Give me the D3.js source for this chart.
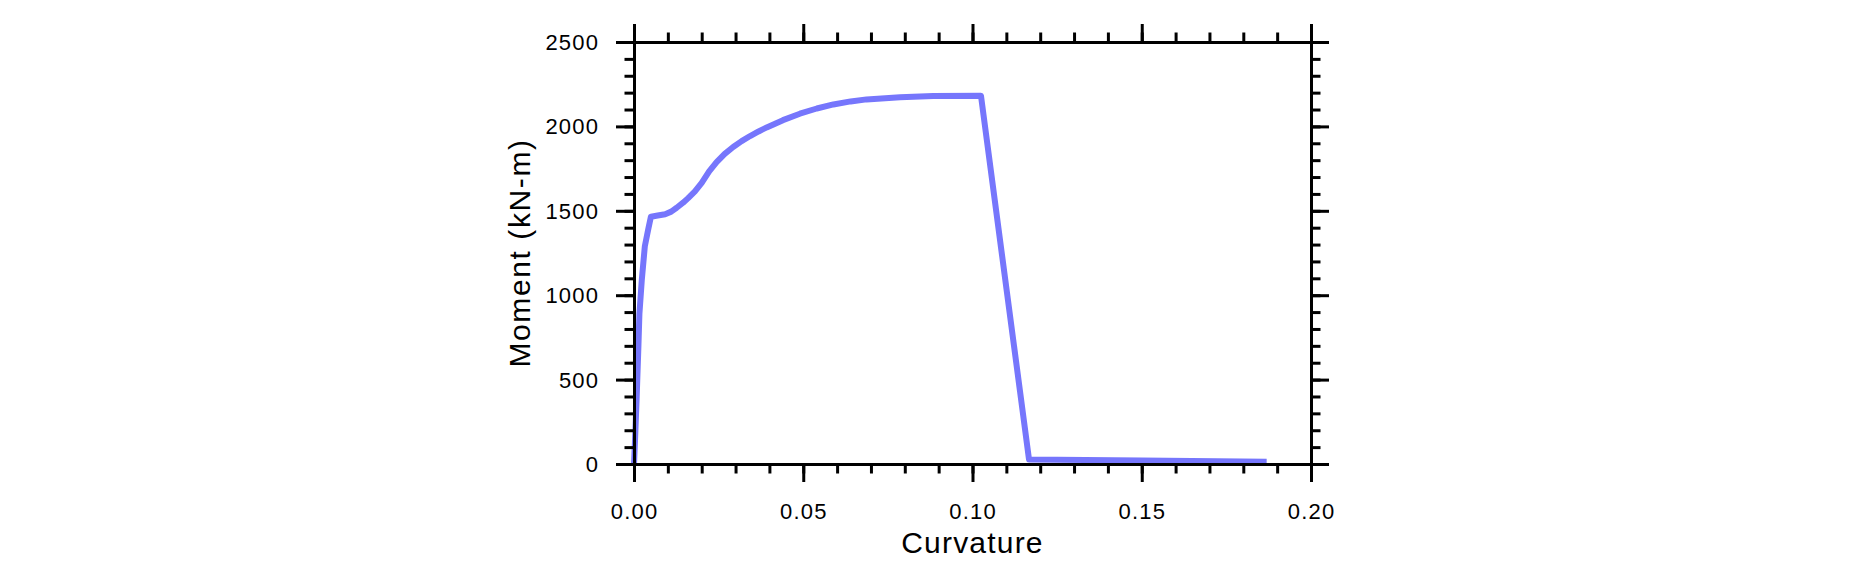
<!DOCTYPE html>
<html>
<head>
<meta charset="utf-8">
<script src="https://cdn.jsdelivr.net/npm/d3@7"></script>
<style>
  html, body { margin: 0; padding: 0; background: #fff; }
  svg { display: block; }
  text { font-family: "Liberation Sans", Arial, Helvetica, sans-serif; fill: #000; }
</style>
</head>
<body>
<script>
// ---- data ----
const curvature = [0, 0.0003, 0.0008, 0.0013, 0.0016, 0.0023, 0.0032, 0.0042, 0.0050, 0.0070, 0.0092, 0.0110, 0.0126, 0.0145, 0.0160, 0.0180, 0.0200, 0.0222, 0.0244, 0.0268, 0.0293, 0.0318, 0.0343, 0.0368, 0.0392, 0.0440, 0.0490, 0.0540, 0.0589, 0.0640, 0.0687, 0.0786, 0.0884, 0.1025, 0.1167, 0.1500, 0.1869];
const moment    = [0, 140, 400, 695, 890, 1090, 1290, 1390, 1465, 1472, 1480, 1495, 1518, 1548, 1575, 1615, 1665, 1733, 1788, 1837, 1878, 1913, 1943, 1970, 1994, 2037, 2075, 2106, 2130, 2148, 2160, 2172, 2180, 2182, 26, 20, 13];
const xTicks = [0.00, 0.05, 0.10, 0.15, 0.20];
const yTicks = [0, 500, 1000, 1500, 2000, 2500];
const xLabel = "Curvature";
const yLabel = "Moment (kN-m)";

const W = 1876, H = 585;
const L = 634, R = 1311, T = 42, B = 464;

const svg = d3.select("body").append("svg").attr("width", W).attr("height", H);

const x = d3.scaleLinear().domain([0, 0.2]).range([L, R]);
const y = d3.scaleLinear().domain([0, 2500]).range([B, T]);

const data = curvature.map((c, i) => [c, moment[i]]);

// curve
svg.append("path")
  .datum(data)
  .attr("fill", "none")
  .attr("stroke", "rgb(118,118,252)")
  .attr("stroke-width", 6)
  .attr("stroke-linejoin", "round")
  .attr("d", d3.line().x(d => x(d[0])).y(d => y(d[1])));

// axes with outward ticks
const xMinor = d3.range(0, 0.2001, 0.01);
const yMinor = d3.range(0, 2501, 100);
const MAJ = 18, MIN = 9.5;

function styleAxis(g) {
  g.selectAll("path.domain").attr("stroke", "#000").attr("stroke-width", 3);
  g.selectAll(".tick line").attr("stroke", "#000").attr("stroke-width", 3);
  g.selectAll(".tick text").remove();
}

// minor
svg.append("g").attr("transform", `translate(0,${B})`)
  .call(d3.axisBottom(x).tickValues(xMinor).tickSize(MIN).tickSizeOuter(0)).call(styleAxis);
svg.append("g").attr("transform", `translate(0,${T})`)
  .call(d3.axisTop(x).tickValues(xMinor).tickSize(MIN).tickSizeOuter(0)).call(styleAxis);
svg.append("g").attr("transform", `translate(${L},0)`)
  .call(d3.axisLeft(y).tickValues(yMinor).tickSize(MIN).tickSizeOuter(0)).call(styleAxis);
svg.append("g").attr("transform", `translate(${R},0)`)
  .call(d3.axisRight(y).tickValues(yMinor).tickSize(MIN).tickSizeOuter(0)).call(styleAxis);
// major
svg.append("g").attr("transform", `translate(0,${B})`)
  .call(d3.axisBottom(x).tickValues(xTicks).tickSize(MAJ).tickSizeOuter(0)).call(styleAxis);
svg.append("g").attr("transform", `translate(0,${T})`)
  .call(d3.axisTop(x).tickValues(xTicks).tickSize(MAJ).tickSizeOuter(0)).call(styleAxis);
svg.append("g").attr("transform", `translate(${L},0)`)
  .call(d3.axisLeft(y).tickValues(yTicks).tickSize(MAJ).tickSizeOuter(0)).call(styleAxis);
svg.append("g").attr("transform", `translate(${R},0)`)
  .call(d3.axisRight(y).tickValues(yTicks).tickSize(MAJ).tickSizeOuter(0)).call(styleAxis);

// tick labels
const LS = 1.2;
svg.append("g").selectAll("text").data(xTicks).join("text")
  .attr("x", d => x(d) + LS / 2)
  .attr("y", 519)
  .attr("text-anchor", "middle")
  .attr("font-size", 22)
  .attr("letter-spacing", LS)
  .text(d => d3.format(".2f")(d));

svg.append("g").selectAll("text").data(yTicks).join("text")
  .attr("x", 598 + LS)
  .attr("y", d => y(d) + 8)
  .attr("text-anchor", "end")
  .attr("font-size", 22)
  .attr("letter-spacing", LS)
  .text(d => d);

// axis titles
svg.append("text")
  .attr("x", (L + R) / 2)
  .attr("y", 553)
  .attr("text-anchor", "middle")
  .attr("font-size", 30)
  .attr("letter-spacing", 1.2)
  .text(xLabel);

svg.append("text")
  .attr("transform", `translate(530,${(T + B) / 2}) rotate(-90)`)
  .attr("text-anchor", "middle")
  .attr("font-size", 30)
  .attr("letter-spacing", 1.6)
  .text(yLabel);
</script>
</body>
</html>
